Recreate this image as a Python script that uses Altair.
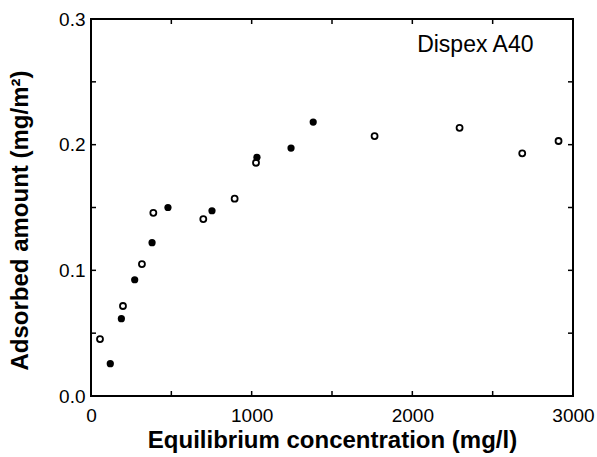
import altair as alt
import pandas as pd

# Open circles
open_x = [56, 199, 317, 388, 699, 894, 1027, 1765, 2294, 2684, 2910]
open_y = [0.0453, 0.0716, 0.105, 0.1458, 0.1408, 0.157, 0.1856, 0.2068, 0.2134, 0.1931, 0.2029]
# Filled circles
fill_x = [120, 189, 272, 380, 479, 753, 1033, 1245, 1383]
fill_y = [0.0257, 0.0615, 0.0925, 0.122, 0.150, 0.1474, 0.190, 0.1973, 0.218]

x_ticks = [0, 500, 1000, 1500, 2000, 2500, 3000]
y_ticks = [0, 0.05, 0.1, 0.15, 0.2, 0.25, 0.3]
x_labels = [0, 1000, 2000, 3000]
y_labels = [0.0, 0.1, 0.2, 0.3]

W, H = 482, 377
FONT = "Liberation Sans"

df_open = pd.DataFrame({"conc": open_x, "ads": open_y})
df_fill = pd.DataFrame({"conc": fill_x, "ads": fill_y})
df_xt = pd.DataFrame({"conc": x_ticks})
df_yt = pd.DataFrame({"ads": y_ticks})
df_note = pd.DataFrame({"conc": [2030], "ads": [0.2737], "label": ["Dispex A40"]})

xscale = alt.Scale(domain=[0, 3000], nice=False, zero=False)
yscale = alt.Scale(domain=[0, 0.3], nice=False, zero=False)

xaxis = alt.Axis(
    title="Equilibrium concentration (mg/l)", values=x_labels, format="d",
    grid=False, ticks=False, domain=False, labelFontSize=19, labelFont=FONT,
    labelColor="black", labelPadding=10, labelFlush=False, titleFont=FONT,
    titleFontSize=24, titleFontWeight="bold", titleColor="black",
    titleBaseline="alphabetic", titleY=51,
)
yaxis = alt.Axis(
    title="Adsorbed amount (mg/m²)", values=y_labels, format=".1f",
    grid=False, ticks=False, domain=False, labelFontSize=19, labelFont=FONT,
    labelColor="black", labelPadding=6, labelFlush=False, titleFont=FONT,
    titleFontSize=24, titleFontWeight="bold", titleColor="black",
    titleBaseline="alphabetic", titleX=-64, titleY=201, titleAlign="center",
)

def X():
    return alt.X("conc:Q", scale=xscale, axis=xaxis)

def Y():
    return alt.Y("ads:Q", scale=yscale, axis=yaxis)

open_pts = alt.Chart(df_open).mark_point(
    shape="circle", filled=False, color="black", size=36, strokeWidth=1.8, opacity=1
).encode(x=X(), y=Y())

fill_pts = alt.Chart(df_fill).mark_circle(
    color="black", size=52, opacity=1
).encode(x=X(), y=Y())

tick_style = dict(color="black", strokeWidth=1.5)
xt_bottom = alt.Chart(df_xt).mark_rule(**tick_style).encode(
    x=X(), y=alt.value(H), y2=alt.value(H - 5))
xt_top = alt.Chart(df_xt).mark_rule(**tick_style).encode(
    x=X(), y=alt.value(0), y2=alt.value(5))
yt_left = alt.Chart(df_yt).mark_rule(**tick_style).encode(
    y=Y(), x=alt.value(0), x2=alt.value(5))
yt_right = alt.Chart(df_yt).mark_rule(**tick_style).encode(
    y=Y(), x=alt.value(W), x2=alt.value(W - 5))

note = alt.Chart(df_note).mark_text(
    align="left", baseline="alphabetic", font=FONT, fontSize=23, color="black"
).encode(x=X(), y=Y(), text="label:N")

chart = alt.layer(
    xt_bottom, xt_top, yt_left, yt_right, open_pts, fill_pts, note
).properties(
    width=W, height=H,
    autosize=alt.AutoSizeParams(type="none"),
    padding={"left": 91, "top": 19, "right": 24, "bottom": 61},
    background="white",
).configure_view(stroke="black", strokeWidth=2)

chart.save("out.html", embed_options={"renderer": "svg", "actions": False})
